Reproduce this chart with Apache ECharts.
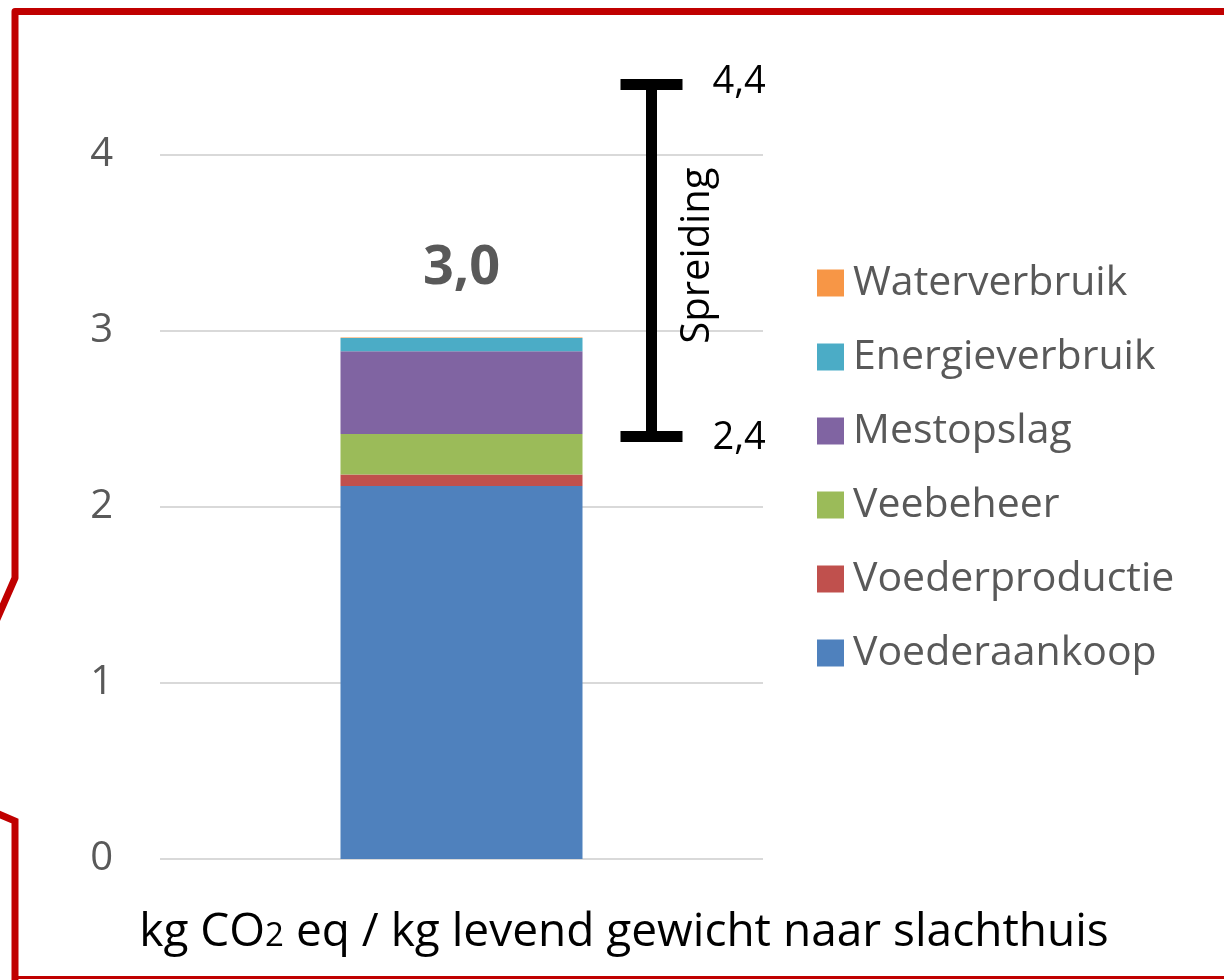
<!DOCTYPE html>
<html>
<head>
<meta charset="utf-8">
<script src="https://cdn.jsdelivr.net/npm/echarts@6/dist/echarts.min.js"></script>
<style>
  html, body { margin: 0; padding: 0; background: #fff; }
  #chart { width: 1224px; height: 980px; }
</style>
</head>
<body>
<div id="chart"></div>
<script>
// Emission contributions per source (kg CO2 eq / kg live weight), stacked bottom to top
const categories = ['totaal'];
const seriesNames = ['Voederaankoop', 'Voederproductie', 'Veebeheer', 'Mestopslag', 'Energieverbruik', 'Waterverbruik'];
const voederaankoop = [2.12];
const voederproductie = [0.065];
const veebeheer = [0.23];
const mestopslag = [0.47];
const energieverbruik = [0.075];
const waterverbruik = [0.003];
const seriesColors = ['#4F81BD', '#C0504D', '#9BBB59', '#8064A2', '#4BACC6', '#F79646'];
// Spread (min / max) across farms
const spreidingLow = [2.4];
const spreidingHigh = [4.4];
const yTicks = [0, 1, 2, 3, 4];

const stackValues = [voederaankoop, voederproductie, veebeheer, mestopslag, energieverbruik, waterverbruik];
const totals = categories.map((_, i) => stackValues.reduce((s, arr) => s + arr[i], 0));
const fmt = v => v.toFixed(1).replace('.', ',');

const FONT = '"Open Sans", "Noto Sans", sans-serif';
const GREY = '#595959';

const chart = echarts.init(document.getElementById('chart'), null, { renderer: 'canvas' });

const barSeries = seriesNames.map((name, k) => ({
  name: name,
  type: 'bar',
  stack: 'total',
  barWidth: 242,
  data: stackValues[k],
  itemStyle: { color: seriesColors[k] },
  emphasis: { disabled: true },
  label: k === seriesNames.length - 1 ? {
    show: true,
    position: 'top',
    distance: 42,
    formatter: p => fmt(totals[p.dataIndex]),
    fontFamily: FONT,
    fontWeight: 'bold',
    fontSize: 54,
    color: GREY
  } : { show: false }
}));

// Spread bar drawn beside the stacked column
const spreadSeries = {
  type: 'custom',
  name: 'Spreiding',
  clip: false,
  silent: true,
  data: categories.map((c, i) => [i, spreidingLow[i], spreidingHigh[i]]),
  renderItem: function (params, api) {
    const xOffset = 190;
    const x = api.coord([api.value(0), 0])[0] + xOffset;
    const yLo = api.coord([api.value(0), api.value(1)])[1];
    const yHi = api.coord([api.value(0), api.value(2)])[1];
    const capHalf = 31;
    const w = 11;
    const black = '#000';
    const txt = (t, px, py) => ({
      type: 'text',
      x: px, y: py,
      style: {
        text: t, fill: black, font: '38px ' + FONT,
        textAlign: 'left', textVerticalAlign: 'middle'
      }
    });
    return {
      type: 'group',
      children: [
        { type: 'rect', shape: { x: x - w / 2, y: yHi, width: w, height: yLo - yHi }, style: { fill: black } },
        { type: 'rect', shape: { x: x - capHalf, y: yHi - w / 2, width: capHalf * 2, height: w }, style: { fill: black } },
        { type: 'rect', shape: { x: x - capHalf, y: yLo - w / 2, width: capHalf * 2, height: w }, style: { fill: black } },
        txt(fmt(api.value(2)), x + capHalf + 30, yHi - 2),
        txt(fmt(api.value(1)), x + capHalf + 30, yLo + 2),
        {
          type: 'text',
          x: x + 46, y: (yLo + yHi) / 2 - 5,
          rotation: Math.PI / 2,
          style: {
            text: 'Spreiding', fill: black, font: '40px ' + FONT,
            textAlign: 'center', textVerticalAlign: 'middle'
          }
        }
      ]
    };
  }
};

const option = {
  backgroundColor: '#fff',
  animation: false,
  textStyle: { fontFamily: FONT },
  grid: { left: 160, right: 461, top: 155, bottom: 121, containLabel: false },
  xAxis: {
    type: 'category',
    data: categories,
    axisLine: { show: false },
    axisTick: { show: false },
    axisLabel: { show: false }
  },
  yAxis: {
    type: 'value',
    min: yTicks[0],
    max: yTicks[yTicks.length - 1],
    interval: 1,
    axisLine: { show: false },
    axisTick: { show: false },
    axisLabel: { fontSize: 40, color: GREY, margin: 47, fontFamily: FONT },
    splitLine: { lineStyle: { color: '#D9D9D9', width: 2 } }
  },
  legend: {
    orient: 'vertical',
    left: 812,
    top: 254,
    icon: 'rect',
    itemWidth: 27,
    itemHeight: 27,
    itemGap: 26,
    selectedMode: false,
    data: seriesNames.slice().reverse(),
    textStyle: { fontSize: 41, color: GREY, fontFamily: FONT, lineHeight: 48, padding: [0, 0, 0, 4] }
  },
  graphic: [
    {
      type: 'polyline',
      silent: true,
      shape: { points: [[1235, 11.5], [15, 11.5], [15, 578], [-6, 626]] },
      style: { stroke: '#C00000', lineWidth: 7, fill: null, lineJoin: 'round' }
    },
    {
      type: 'polyline',
      silent: true,
      shape: { points: [[-6, 812], [15, 821], [15, 985]] },
      style: { stroke: '#C00000', lineWidth: 7, fill: null, lineJoin: 'miter' }
    },
    {
      type: 'line',
      silent: true,
      shape: { x1: 15, y1: 977.5, x2: 1235, y2: 977.5 },
      style: { stroke: '#C00000', lineWidth: 3 }
    },
    {
      type: 'text',
      silent: true,
      x: 624, y: 928,
      style: {
        text: '{a|kg CO}{s|2}{a| eq / kg levend gewicht naar slachthuis}',
        textAlign: 'center',
        textVerticalAlign: 'middle',
        rich: {
          a: { fontSize: 46, fontFamily: FONT, fill: '#000', lineHeight: 56, verticalAlign: 'bottom' },
          s: { fontSize: 33, fontFamily: FONT, fill: '#000', lineHeight: 56, verticalAlign: 'bottom', padding: [0, 0, 3, 0] }
        }
      }
    }
  ],
  series: barSeries.concat([spreadSeries])
};

chart.setOption(option);
</script>
</body>
</html>
